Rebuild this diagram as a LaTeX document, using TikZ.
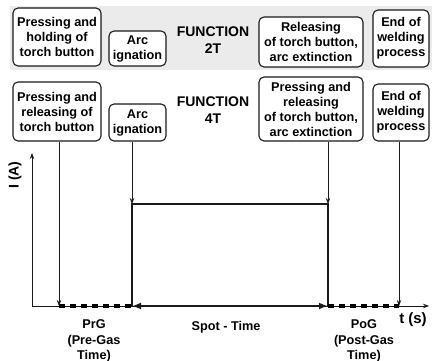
\documentclass[tikz,border=0pt]{standalone}
\usepackage{fontspec}
\setmainfont{Liberation Sans}
\usetikzlibrary{arrows.meta,calc}
\definecolor{band}{HTML}{EBEBEB}
\definecolor{ink}{HTML}{1A1A1A}
\tikzset{
  box/.style={draw=ink, line width=1.1pt, rounded corners=5pt, fill=white,
    align=center, inner sep=0pt, font=\fontsize{12.7}{15}\selectfont\bfseries},
  func/.style={align=center, inner sep=0pt, font=\fontsize{14}{17}\selectfont\bfseries},
  lbl/.style={align=center, inner sep=0pt, font=\fontsize{12.7}{15.5}\selectfont\bfseries},
  thin/.style={draw=ink, line width=0.8pt, -{Stealth[length=6pt,width=4.5pt]}},
  gas/.style={line width=3.5pt, dash pattern=on 6pt off 5pt},
}
\begin{document}
\begin{tikzpicture}[x=1pt,y=-1pt]
\useasboundingbox (0,0) rectangle (432,361);
\fill[band] (10,6) rectangle (432,70);
% row 1 (2T)
\node[box, minimum width=88, minimum height=58] (A1) at (57,37) {Pressing and\\holding of\\torch button};
\node[box, minimum width=57, minimum height=35] (B1) at (137.5,48.5) {Arc\\ignation};
\node[func] (F1) at (213,40) {FUNCTION\\2T};
\node[box, minimum width=104, minimum height=50] (C1) at (311,42) {Releasing\\of torch button,\\arc extinction};
\node[box, minimum width=56, minimum height=57] (D1) at (401,38.5) {End of\\welding\\process};
% row 2 (4T)
\node[box, minimum width=88, minimum height=59] (A2) at (57,111.5) {Pressing and\\releasing of\\torch button};
\node[box, minimum width=57, minimum height=37] (B2) at (137.5,122.5) {Arc\\ignation};
\node[func] (F2) at (213,110.5) {FUNCTION\\4T};
\node[box, minimum width=104, minimum height=64] (C2) at (311,109) {Pressing and\\releasing\\of torch button,\\arc extinction};
\node[box, minimum width=56, minimum height=57] (D2) at (401,112.5) {End of\\welding\\process};
% axes
\coordinate (O) at (32,306);
\coordinate (Ytop) at (32,153);
\coordinate (Xend) at (429,306);
\draw[thin] (O) -- (Ytop);
\draw[thin] (O) -- (Xend);
\node[lbl, font=\fontsize{14}{17}\selectfont\bfseries, rotate=90] (IA) at (15,175) {I (A)};
\node[lbl, font=\fontsize{15}{18}\selectfont\bfseries] (ts) at (413,320) {t (s)};
% event points
\coordinate (p1) at (59,306);
\coordinate (p2) at (132,204);
\coordinate (p2b) at (132,306);
\coordinate (p3) at (328,204);
\coordinate (p3b) at (328,306);
\coordinate (p4) at (399,306);
\draw[thin] (A2.south -| p1) -- (p1);
\draw[thin] (B2.south -| p2) -- (p2);
\draw[thin] (C2.south -| p3) -- (p3);
\draw[thin] (D2.south -| p4) -- (p4);
% current pulse
\draw[ink, line width=2pt] (p2b) -- (p2) -- (p3) -- (p3b);
% gas times
\draw[black, gas] (p1) -- (p2b);
\draw[black, gas] (p3b) -- (p4);
% spot time
\draw[ink, line width=2pt, {Latex[length=9pt,width=7pt]}-{Latex[length=9pt,width=7pt]}] (p2b) -- (p3b);
% labels
\node[lbl] (prg) at (94,341) {PrG\\(Pre-Gas\\Time)};
\node[lbl] (spot) at (226,327) {Spot - Time};
\node[lbl] (pog) at (364,341) {PoG\\(Post-Gas\\Time)};
\end{tikzpicture}
\end{document}
